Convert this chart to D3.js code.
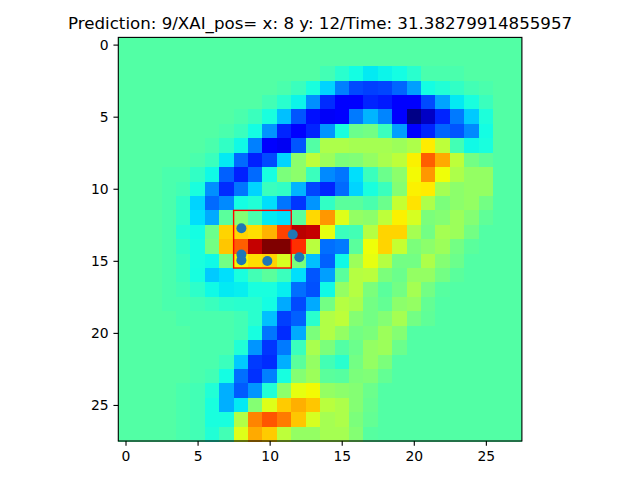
<!DOCTYPE html>
<html>
<head>
<meta charset="utf-8">
<script src="https://cdn.jsdelivr.net/npm/d3@7"></script>
<style>
    html, body { margin: 0; padding: 0; background: #fff; }
    svg { display: block; }
    text { font-family: "DejaVu Sans", sans-serif; fill: #000; }
</style>
</head>
<body>
<div id="chart"></div>
<script>
var titleText = "Prediction: 9/XAI_pos= x: 8 y: 12/Time: 31.38279914855957";

// values, one row per line
var heatValues = [
[.45,.45,.45,.45,.45,.45,.45,.45,.45,.45,.45,.45,.45,.45,.45,.45,.45,.45,.45,.45,.45,.45,.45,.45,.45,.45,.45,.45],
[.45,.45,.45,.45,.45,.45,.45,.45,.45,.45,.45,.45,.45,.45,.45,.45,.45,.45,.45,.45,.45,.45,.45,.45,.45,.45,.45,.45],
[.45,.45,.45,.45,.45,.45,.45,.45,.45,.45,.45,.45,.45,.45,.43,.40,.374,.354,.365,.374,.40,.44,.44,.44,.45,.45,.45,.45],
[.45,.45,.45,.45,.45,.45,.45,.45,.45,.45,.45,.44,.42,.38,.333,.25,.198,.187,.193,.224,.281,.374,.39,.41,.43,.44,.45,.45],
[.45,.45,.45,.45,.45,.45,.45,.45,.45,.45,.43,.40,.365,.266,.167,.12,.12,.16,.15,.12,.12,.198,.286,.354,.38,.42,.45,.45],
[.45,.45,.45,.45,.45,.45,.45,.45,.44,.42,.38,.313,.208,.14,.105,.12,.245,.302,.255,.12,.005,.06,.16,.245,.323,.385,.45,.45],
[.45,.45,.45,.45,.45,.45,.45,.44,.42,.374,.271,.16,.12,.16,.271,.38,.48,.49,.42,.281,.12,.16,.224,.208,.26,.374,.45,.45],
[.45,.45,.45,.45,.45,.45,.44,.41,.37,.25,.12,.10,.208,.45,.56,.56,.55,.55,.55,.54,.56,.66,.58,.43,.37,.38,.45,.45],
[.45,.45,.45,.45,.45,.44,.42,.354,.229,.156,.198,.333,.52,.58,.54,.50,.505,.53,.555,.58,.655,.81,.73,.58,.49,.465,.45,.45],
[.45,.45,.45,.44,.44,.41,.37,.219,.156,.229,.378,.50,.52,.42,.26,.24,.344,.42,.48,.52,.645,.75,.64,.56,.53,.53,.45,.45],
[.45,.45,.45,.44,.43,.38,.266,.167,.24,.333,.42,.41,.302,.193,.16,.229,.333,.38,.42,.51,.655,.66,.55,.52,.53,.53,.45,.45],
[.45,.45,.45,.44,.41,.333,.229,.26,.374,.39,.344,.24,.177,.271,.41,.46,.46,.44,.48,.59,.67,.56,.50,.52,.53,.49,.45,.45],
[.45,.45,.45,.44,.41,.344,.292,.46,.51,.44,.354,.344,.46,.68,.75,.62,.53,.52,.58,.655,.61,.50,.51,.54,.51,.465,.45,.45],
[.45,.45,.45,.44,.395,.374,.48,.685,.685,.675,.72,.84,.95,.94,.63,.42,.43,.57,.685,.685,.55,.49,.55,.54,.49,.45,.45,.45],
[.45,.45,.45,.44,.41,.38,.49,.70,.81,.94,1,1,.86,.575,.234,.245,.46,.64,.685,.59,.50,.52,.54,.49,.46,.45,.45,.45],
[.45,.45,.45,.44,.42,.38,.37,.49,.65,.675,.685,.61,.50,.313,.219,.37,.54,.63,.57,.49,.49,.56,.51,.48,.45,.45,.45,.45],
[.45,.45,.45,.44,.42,.378,.323,.344,.38,.43,.46,.42,.344,.208,.281,.46,.57,.575,.50,.48,.53,.53,.49,.46,.45,.45,.45,.45],
[.45,.45,.45,.44,.43,.405,.37,.354,.359,.38,.38,.359,.234,.203,.37,.53,.57,.50,.46,.49,.55,.49,.455,.45,.45,.45,.45,.45],
[.45,.45,.45,.44,.44,.43,.42,.405,.40,.40,.374,.292,.198,.292,.49,.57,.555,.49,.47,.52,.53,.47,.45,.45,.45,.45,.45,.45],
[.45,.45,.45,.45,.44,.44,.44,.44,.43,.40,.313,.187,.219,.40,.565,.58,.51,.49,.51,.55,.49,.465,.45,.45,.45,.45,.45,.45],
[.45,.45,.45,.45,.45,.44,.44,.44,.43,.378,.24,.167,.292,.50,.565,.53,.49,.50,.54,.51,.45,.45,.45,.45,.45,.45,.45,.45],
[.45,.45,.45,.45,.45,.44,.44,.44,.39,.271,.177,.245,.42,.555,.50,.45,.48,.53,.54,.48,.45,.45,.45,.45,.45,.45,.45,.45],
[.45,.45,.45,.45,.45,.44,.44,.42,.323,.182,.167,.297,.46,.53,.43,.40,.49,.53,.50,.45,.45,.45,.45,.45,.45,.45,.45,.45],
[.45,.45,.45,.45,.45,.44,.43,.374,.234,.172,.25,.378,.51,.54,.46,.455,.50,.505,.47,.45,.45,.45,.45,.45,.45,.45,.45,.45],
[.45,.45,.45,.45,.44,.43,.39,.297,.214,.271,.39,.52,.63,.645,.53,.52,.51,.48,.45,.45,.45,.45,.45,.45,.45,.45,.45,.45],
[.45,.45,.45,.45,.44,.43,.38,.297,.354,.51,.62,.695,.725,.70,.575,.56,.51,.475,.45,.45,.45,.45,.45,.45,.45,.45,.45,.45],
[.45,.45,.45,.45,.44,.43,.38,.38,.565,.77,.82,.78,.70,.61,.55,.56,.50,.47,.45,.45,.45,.45,.45,.45,.45,.45,.45,.45],
[.45,.45,.45,.45,.44,.43,.39,.43,.62,.73,.695,.58,.53,.53,.55,.55,.51,.455,.45,.45,.45,.45,.45,.45,.45,.45,.45,.45]
];

var pointX = [8.04, 11.6, 8.04, 8.04, 9.84, 12.06];
var pointY = [12.74, 13.18, 14.57, 14.96, 15.01, 14.75];

var boxX = [7.5, 11.5];
var boxY = [11.5, 15.5];

var xTicks = [0, 5, 10, 15, 20, 25];
var yTicks = [0, 5, 10, 15, 20, 25];

var width = 640, height = 480;
var left = 118.3, right = 521.9, top_ = 37.4, bottom = 441;

var x = d3.scaleLinear().domain([-0.5, 27.5]).range([left, right]);
var y = d3.scaleLinear().domain([-0.5, 27.5]).range([top_, bottom]);

// matplotlib jet, one scale per channel
var jetR = d3.scaleLinear().domain([0, .35, .66, .89, 1]).range([0, 0, 255, 255, 128]);
var jetG = d3.scaleLinear().domain([0, .125, .375, .64, .91, 1]).range([0, 0, 255, 255, 0, 0]);
var jetB = d3.scaleLinear().domain([0, .11, .34, .65, 1]).range([128, 255, 255, 0, 0]);
function jet(v) {
    return d3.rgb(jetR(v), jetG(v), jetB(v)).formatHex();
}

var svg = d3.select("#chart").append("svg")
    .attr("width", width)
    .attr("height", height);

// heatmap
svg.append("g").selectAll("g")
    .data(heatValues)
    .enter().append("g")
    .each(function(row, j) {
        d3.select(this).selectAll("rect")
            .data(row)
            .enter().append("rect")
            .attr("x", function(d, i) { return x(i - 0.5); })
            .attr("y", y(j - 0.5))
            .attr("width", x(1) - x(0) + 0.5)
            .attr("height", y(1) - y(0) + 0.5)
            .attr("shape-rendering", "crispEdges")
            .attr("fill", function(d) { return jet(d); });
    });

// red box
svg.append("rect")
    .attr("x", x(boxX[0]))
    .attr("y", y(boxY[0]))
    .attr("width", x(boxX[1]) - x(boxX[0]))
    .attr("height", y(boxY[1]) - y(boxY[0]))
    .attr("fill", "none")
    .attr("stroke", "#ff0000")
    .attr("stroke-width", 1.39);

// points
svg.append("g").selectAll("circle")
    .data(pointX)
    .enter().append("circle")
    .attr("cx", function(d) { return x(d); })
    .attr("cy", function(d, i) { return y(pointY[i]); })
    .attr("r", 5)
    .attr("fill", "#1f77b4");

// axes
var xAxis = svg.append("g")
    .attr("transform", "translate(0," + bottom + ")")
    .call(d3.axisBottom(x).tickValues(xTicks).tickFormat(d3.format("d")).tickSize(4.86).tickPadding(4.86));
var yAxis = svg.append("g")
    .attr("transform", "translate(" + left + ",0)")
    .call(d3.axisLeft(y).tickValues(yTicks).tickFormat(d3.format("d")).tickSize(4.86).tickPadding(4.86));

svg.selectAll(".domain").remove();
svg.selectAll(".tick line").attr("stroke", "#000").attr("stroke-width", 1.11);
svg.selectAll(".tick text").style("font-size", "13.9px").attr("font-family", null);

// frame
svg.append("rect")
    .attr("x", left)
    .attr("y", top_)
    .attr("width", right - left)
    .attr("height", bottom - top_)
    .attr("fill", "none")
    .attr("stroke", "#000")
    .attr("stroke-width", 1.11);

svg.append("text")
    .attr("x", (left + right) / 2)
    .attr("y", 29)
    .attr("text-anchor", "middle")
    .style("font-size", "16.67px")
    .text(titleText);
</script>
</body>
</html>
